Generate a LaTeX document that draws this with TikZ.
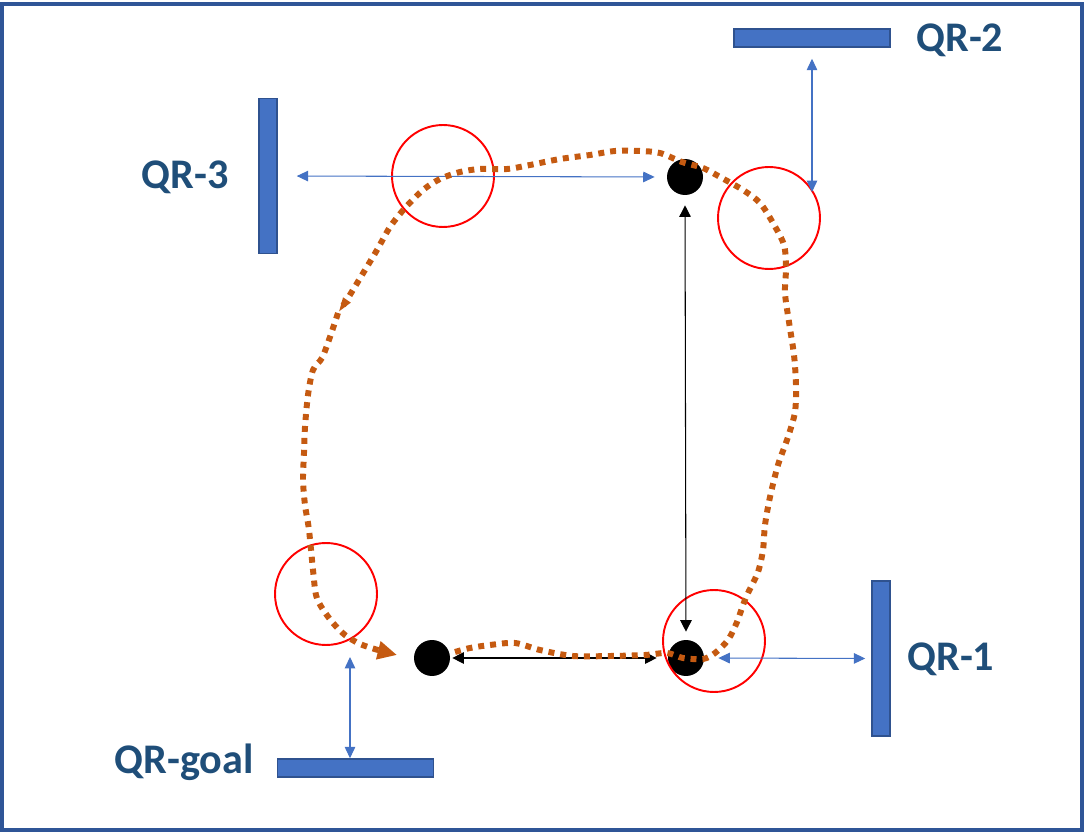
\documentclass[tikz,border=0pt]{standalone}
\usepackage{fontspec}
\setmainfont{Carlito}
\usetikzlibrary{arrows.meta, positioning}

\definecolor{qrblue}{HTML}{4472C4}
\definecolor{qredge}{HTML}{2F528F}
\definecolor{frameblue}{HTML}{2F5597}
\definecolor{labelblue}{HTML}{1F4E79}
\definecolor{pathorange}{HTML}{C55A11}

\begin{document}
\begin{tikzpicture}[x=0.02cm, y=-0.02cm,
    bar/.style={draw=qredge, fill=qrblue, line width=0.85pt, inner sep=0pt},
    hbar/.style={bar, minimum width=3.12cm, minimum height=0.36cm},
    vbar/.style={bar, minimum width=0.36cm, minimum height=3.1cm},
    qrlabel/.style={font=\bfseries\fontsize{24}{28}\selectfont, text=labelblue, inner sep=0pt},
    robot/.style={circle, fill=black, minimum size=0.72cm, inner sep=0pt},
    ring/.style={circle, draw=red, line width=1.1pt, minimum size=2.04cm, inner sep=0pt},
    scan/.style={qrblue, line width=0.6pt, {Triangle[length=6.5pt, width=6pt]}-{Triangle[length=6.5pt, width=6pt]}},
    move/.style={black, line width=0.6pt, {Triangle[length=6.5pt, width=6.5pt]}-{Triangle[length=6.5pt, width=6.5pt]}},
    route/.style={pathorange, line width=3.4pt, dash pattern=on 3.4pt off 3.4pt}]
    \useasboundingbox (0,0) rectangle (1086,834);
    % cadre
    \draw[frameblue, line width=2.3pt] (2,4) rectangle (1082,830);
    % QR codes
    \node[hbar] (qr2) at (812,38) {};
    \node[vbar] (qr3) at (268,176) {};
    \node[vbar] (qr1) at (881,658.5) {};
    \node[hbar] (qrgoal) at (355.5,768) {};
    \node[qrlabel, anchor=west] (lab2) at (916,40) {QR-2};
    \node[qrlabel, anchor=east] (lab3) at (229,177) {QR-3};
    \node[qrlabel, anchor=west] (lab1) at (907,659) {QR-1};
    \node[qrlabel, anchor=east] (labgoal) at (254,762) {QR-goal};
    % robots
    \node[robot] (robotA) at (685,177) {};
    \node[robot] (robotB) at (686,658) {};
    \node[robot] (robotC) at (432,658) {};
    % zones de lecture
    \node[ring] (ringA) at (443,176) {};
    \node[ring] (ringB) at (769,218) {};
    \node[ring] (ringC) at (326,594) {};
    \node[ring] (ringD) at (714,641) {};
    % distances
    \coordinate (scan2) at (812,192);
    \coordinate (scangoal) at (350,657);
    \draw[scan, shorten <=0.38cm, shorten >=0.24cm] (qr3.east) -- (robotA.west);
    \draw[scan, shorten <=0.22cm] (qr2.south) -- (scan2);
    \draw[scan, shorten <=0.12cm, shorten >=0.28cm] (qr1.west) -- (robotB.east);
    \draw[scan] (scangoal) -- (scangoal |- qrgoal.north);
    \draw[move, shorten <=0.2cm, shorten >=0.16cm] (robotA.south) -- (robotB.north);
    \draw[move, shorten <=0.04cm, shorten >=0.22cm] (robotC.east) -- (robotB.west);
    % trajectoire
    \draw[route, -{Triangle[length=9pt, width=4.5pt]}] plot[smooth] coordinates {
      (455,652) (470,648) (490,645) (515,643) (540,650) (573,656) (610,656)
      (645,655) (667,653) (683,658) (703,659) (715,653) (728,640) (737,622)
      (743,605) (748,593) (758,572) (763,550) (765,525) (770,497) (778,465)
      (788,437) (795,412) (796,385) (794,355) (789,322) (785,293) (786,268)
      (784,245) (773,223) (760,203) (743,190) (720,177) (703,168) (682,162)
      (660,153) (640,151) (615,151) (590,155) (560,159) (530,165) (507,169)
      (480,169) (460,172) (440,179) (423,190) (405,208) (390,227) (377,250)
      (362,275) (348,298) (338,313)};
    \draw[route, -{Triangle[length=11pt, width=10pt]}] plot[smooth] coordinates {
      (338,313) (330,337) (322,358) (313,370) (308,395) (305,427) (304,453)
      (303,480) (305,505) (309,530) (313,570) (316,595) (322,608) (333,623)
      (345,635) (360,644) (378,650) (397,655)};
  \end{tikzpicture}
\end{document}
